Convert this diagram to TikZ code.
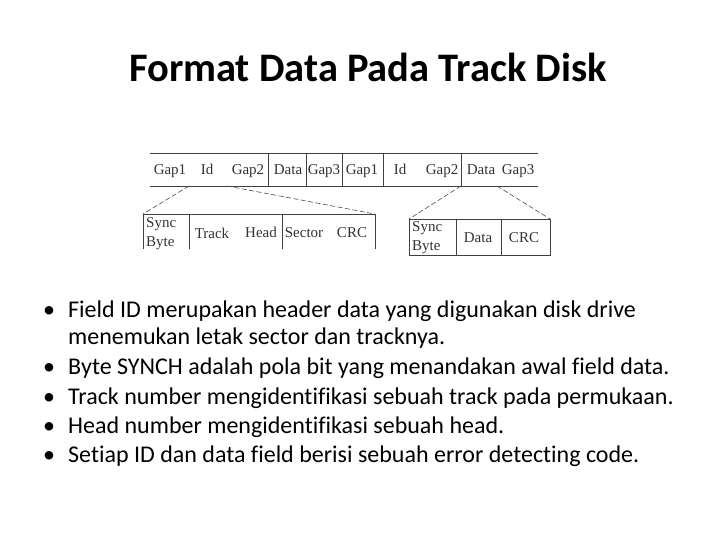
\documentclass[tikz,border=0pt]{standalone}
\usepackage{fontspec}
\setmainfont{Carlito}[Ligatures=NoCommon]
\newfontfamily\scanfont{Liberation Serif}
\usetikzlibrary{positioning}

\begin{document}
\begin{tikzpicture}[x=1pt,y=-1pt]
            \tikzstyle{every node}+=[inner sep=0pt]
            \tikzstyle{fld}=[anchor=base, font=\scanfont\fontsize{15}{19}\selectfont, text=black!80]
            \tikzstyle{cell}=[black!75, line width=0.8pt]
            \tikzstyle{zoomline}=[black!70, line width=0.6pt, dash pattern=on 5pt off 2.5pt]
            \tikzstyle{item}=[anchor=base west, font=\fontsize{24}{24}\selectfont]
            \useasboundingbox (0,0) rectangle (720,540);
            \node [anchor=base] (title) at (368,82) {\fontsize{40.5}{40}\selectfont\bfseries Format Data Pada Track Disk};
            \draw [cell] (150,153) -- (538,153);
            \draw [cell] (150,186) -- (538,186);
            \foreach \x in {268,306,342,383,461}
              \draw [cell] (\x,153) -- (\x,186);
            \node [fld] (gapa) at (170,175) {Gap1};
            \node [fld] (ida) at (207,175) {Id};
            \node [fld] (gapb) at (248,175) {Gap2};
            \node [fld] (dataa) at (288,175) {Data};
            \node [fld] (gapc) at (324,175) {Gap3};
            \node [fld] (gapd) at (362,175) {Gap1};
            \node [fld] (idb) at (400,175) {Id};
            \node [fld] (gape) at (442,175) {Gap2};
            \node [fld] (datab) at (481,175) {Data};
            \node [fld] (gapf) at (518,175) {Gap3};
            \draw [cell] (143,249) -- (143,214) -- (375,214) -- (375,249);
            \draw [cell] (189,214) -- (189,249);
            \draw [cell] (282,214) -- (282,249);
            \node [fld, anchor=base west, align=left] (synca) at (146,246) {Sync\\Byte};
            \node [fld] (track) at (212,238) {Track};
            \node [fld] (head) at (261,237) {Head};
            \node [fld] (sector) at (304,237) {Sector};
            \node [fld] (crca) at (352,237) {CRC};
            \draw [cell] (409,219) rectangle (550,255);
            \draw [cell] (456,219) -- (456,255);
            \draw [cell] (501,219) -- (501,255);
            \node [fld, anchor=base west, align=left] (syncb) at (412,250) {Sync\\Byte};
            \node [fld] (datac) at (478,242) {Data};
            \node [fld] (crcb) at (524,242) {CRC};
            \coordinate (idl) at (189,186);
            \coordinate (idr) at (227,186);
            \coordinate (dtl) at (461,186);
            \coordinate (dtr) at (497,186);
            \coordinate (hdl) at (143,214);
            \coordinate (hdr) at (375,214);
            \coordinate (sbl) at (409,219);
            \coordinate (sbr) at (550,219);
            \draw [zoomline] (idl) -- (hdl);
            \draw [zoomline] (idr) -- (hdr);
            \draw [zoomline] (dtl) -- (sbl);
            \draw [zoomline] (dtr) -- (sbr);
            \foreach \y/\t [count=\i] in {317/{Field ID merupakan header data yang digunakan disk drive},
                374/{Byte SYNCH adalah pola bit yang menandakan awal field data.},
                404/{Track number mengidentifikasi sebuah track pada permukaan.},
                433/{Head number mengidentifikasi sebuah head.},
                462/{Setiap ID dan data field berisi sebuah error detecting code.}}
              {
              \node [item] (dot\i) at (43,\y) {•};
              \node [item] (txt\i) at (68,\y) {\t};
              }
            \node [item] (txtcont) at (68,344) {menemukan letak sector dan tracknya.};
\end{tikzpicture}
\end{document}
